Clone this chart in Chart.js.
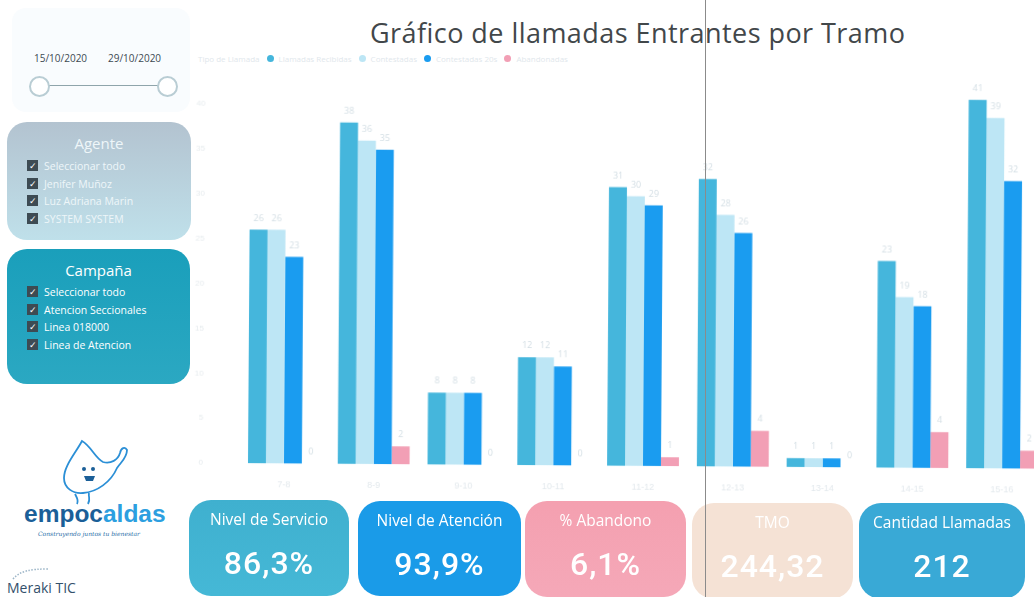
<!DOCTYPE html>
<html lang="es">
<head>
<meta charset="utf-8">
<title>Gráfico de llamadas Entrantes por Tramo</title>
<script src="https://cdn.jsdelivr.net/npm/chart.js@4"></script>
<style>
html, body { margin: 0; padding: 0; background: #fff; }
body { position: relative; width: 1034px; height: 597px; overflow: hidden; font-family: "Open Sans", sans-serif; }
.abs { position: absolute; }
#title { left: 370px; top: 14px; font-size: 27px; line-height: 38px; color: #42474a; white-space: nowrap; letter-spacing: .45px; }
#chartBox { left: 192.5px; top: 26px; width: 854px; height: 470px; transform-origin: 46px 437px; transform: rotate(.4deg); }
#legend { left: 198px; top: 53px; display: flex; align-items: center; font-size: 8px; color: #dfe7ec; white-space: nowrap; }
#legend i { display: inline-block; width: 7px; height: 7px; border-radius: 50%; margin: 0 5px 0 7px; }
#scanLine { left: 705px; top: 0; width: 1px; height: 597px; background: #8b8b8b; }
#datePanel { left: 12px; top: 8px; width: 178px; height: 104px; background: #f9fcfe; border-radius: 14px; }
.date { top: 51px; font-size: 10px; color: #3d4a52; }
.knob { top: 76px; width: 17px; height: 17px; border: 2px solid #b9cdd4; border-radius: 50%; background: #fff; }
#track { left: 48px; top: 85px; width: 112px; height: 1px; background: #8fa5ab; }
.panel { border-radius: 20px; color: #fff; }
.panel h3 { margin: 0; font-weight: 400; font-size: 15px; text-align: center; line-height: 20px; }
.panel ul { list-style: none; margin: 3px 0 0 20px; padding: 0; font-size: 10.5px; line-height: 17.5px; white-space: nowrap; }
.panel li::before { content: "\2713"; display: inline-block; width: 11px; height: 11px; line-height: 11px; text-align: center; font-size: 9px; background: #3d4b53; color: #fff; margin-right: 6px; vertical-align: 1px; }
#agente { left: 7px; top: 122px; width: 184px; height: 118px; padding-top: 11px; box-sizing: border-box; background: linear-gradient(#b3c3d0, #bfe0ea); color: #eef6f9; }
#agente ul { margin-top: 5px; }
#campana { left: 7px; top: 249px; width: 183px; height: 135px; padding-top: 11px; box-sizing: border-box; background: linear-gradient(#1a9fbb, #2ba8c2); }
#campana ul { margin-top: 4px; }
#logoText { left: 24px; top: 499px; font-family: "Liberation Sans", sans-serif; font-weight: 700; font-size: 24.5px; line-height: 30px; color: #1b5f98; }
#logoText span { color: #2c9fe0; }
#tagline { left: 38px; top: 530px; font-family: "DejaVu Serif", serif; font-style: italic; font-size: 6px; color: #2b6fa8; white-space: nowrap; }
#meraki { left: 7px; top: 579px; font-size: 14px; line-height: 18px; color: #33506b; }
.card { border-radius: 22px; color: #fff; text-align: center; overflow: hidden; }
.card div { font-size: 15.5px; line-height: 20px; margin-top: 9px; }
.card b { display: block; font-family: Roboto, sans-serif; font-weight: 500; font-size: 32px; line-height: 38px; margin-top: 15px; letter-spacing: 1px; }
</style>
</head>
<body>
<div class="abs" id="datePanel"></div>
<div class="abs date" style="left:34px">15/10/2020</div>
<div class="abs date" style="left:108px">29/10/2020</div>
<div class="abs" id="track"></div>
<div class="abs knob" style="left:29px"></div>
<div class="abs knob" style="left:157px"></div>

<div class="abs panel" id="agente">
  <h3>Agente</h3>
  <ul><li>Seleccionar todo</li><li>Jenifer Muñoz</li><li>Luz Adriana Marin</li><li>SYSTEM SYSTEM</li></ul>
</div>
<div class="abs panel" id="campana">
  <h3>Campaña</h3>
  <ul><li>Seleccionar todo</li><li>Atencion Seccionales</li><li>Linea 018000</li><li>Linea de Atencion</li></ul>
</div>

<svg class="abs" style="left:55px;top:436px" width="80" height="70" viewBox="0 0 80 70" fill="none" stroke="#2b8fd6" stroke-width="1.8">
  <path d="M27 5 C20 18 9 30 9 42 C9 52 18 58 28 57 C42 56 56 46 62 32 C66 26 72 22 72 14 C70 10 66 12 65 17 C63 24 56 28 48 26 C40 22 36 10 27 5 Z"/>
  <path d="M20 58 C22 62 24 64 22 68 M34 57 C33 62 36 62 33 68"/>
  <circle cx="29" cy="33" r="2" fill="#1b5f98" stroke="none"/><circle cx="38" cy="33" r="2" fill="#1b5f98" stroke="none"/>
  <path d="M29 40 h11 l-2 5 h-7 z" fill="#1b5f98" stroke="none"/>
</svg>
<svg class="abs" style="left:12px;top:566px" width="50" height="14" fill="none" stroke="#9db6c8" stroke-width="1.5" stroke-dasharray="1.5 1.5"><path d="M1 13 C8 5 18 3 36 3"/></svg>
<div class="abs" id="logoText">empoc<span>aldas</span></div>
<div class="abs" id="tagline">Construyendo juntos tu bienestar</div>
<div class="abs" id="meraki">Meraki TIC</div>

<div class="abs" id="title">Gráfico de llamadas Entrantes por Tramo</div>
<div class="abs" id="legend"></div>
<div class="abs" id="chartBox"><canvas id="tramoChart" width="854" height="470"></canvas></div>

<div class="abs card" style="left:189px;top:500px;width:160px;height:96px;background:linear-gradient(#3fb0cf,#45b8d6)"><div>Nivel de Servicio</div><b>86,3%</b></div>
<div class="abs card" style="left:358px;top:501px;width:163px;height:95px;background:#1a9be8"><div>Nivel de Atención</div><b>93,9%</b></div>
<div class="abs card" style="left:525px;top:501px;width:161px;height:96px;background:linear-gradient(#f4a0b0,#f5a8b8)"><div>% Abandono</div><b>6,1%</b></div>
<div class="abs card" style="left:692px;top:503px;width:161px;height:96px;background:#f5e2d5"><div>TMO</div><b>244,32</b></div>
<div class="abs card" style="left:859px;top:503px;width:166px;height:96px;background:#39a9d6"><div>Cantidad Llamadas</div><b>212</b></div>
<div class="abs" id="scanLine"></div>

<script>
// --- Datos ---
const tramos = ['7-8', '8-9', '9-10', '10-11', '11-12', '12-13', '13-14', '14-15', '15-16'];
const recibidas = [26, 38, 8, 12, 31, 32, 1, 23, 41];
const contestadas = [26, 36, 8, 12, 30, 28, 1, 19, 39];
const contestadas20 = [23, 35, 8, 11, 29, 26, 1, 18, 32];
const abandonadas = [0, 2, 0, 0, 1, 4, 0, 4, 2];
const seriesNames = ['Llamadas Recibidas', 'Contestadas', 'Contestadas 20s', 'Abandonadas'];
const seriesColors = ['#45b6dc', '#bde6f5', '#1a9cf0', '#f29fb5'];
const yTicks = [0, 5, 10, 15, 20, 25, 30, 35, 40];

// leyenda en html, con el titulo "Tipo de Llamada" delante
const legend = document.getElementById('legend');
legend.innerHTML = 'Tipo de Llamada' + seriesNames.map(function (name, i) {
    return '<i style="background:' + seriesColors[i] + '"></i>' + name;
}).join('');

// numeros encima de cada barra
const barLabels = {
    id: 'barLabels',
    afterDatasetsDraw(chart) {
        const ctx = chart.ctx;
        ctx.save();
        ctx.font = '9px "Open Sans"';
        ctx.fillStyle = '#d3dee4';
        ctx.textAlign = 'center';
        ctx.textBaseline = 'bottom';
        chart.data.datasets.forEach(function (ds, i) {
            chart.getDatasetMeta(i).data.forEach(function (bar, j) {
                ctx.fillText(ds.data[j], bar.x, bar.y - 7);
            });
        });
        ctx.restore();
    }
};

new Chart(document.getElementById('tramoChart'), {
    type: 'bar',
    data: {
        labels: tramos,
        datasets: [recibidas, contestadas, contestadas20, abandonadas].map(function (values, i) {
            return { label: seriesNames[i], data: values, backgroundColor: seriesColors[i] };
        })
    },
    options: {
        responsive: false,
        animation: false,
        layout: { padding: { top: 8 } },
        datasets: { bar: { barPercentage: 1, categoryPercentage: 0.8 } },
        plugins: { legend: { display: false }, tooltip: { enabled: false } },
        scales: {
            x: {
                grid: { display: false },
                border: { display: false },
                ticks: { color: '#e3e9ed', font: { size: 9 }, padding: 8, maxRotation: 0 },
                afterFit(axis) { axis.height = 27; }
            },
            y: {
                min: 0,
                max: 45,
                grid: { display: false },
                border: { display: false },
                afterBuildTicks(axis) { axis.ticks = yTicks.map(function (v) { return { value: v }; }); },
                ticks: { color: '#e6ebee', font: { size: 8 }, padding: 28 },
                afterFit(axis) { axis.width = 46; }
            }
        }
    },
    plugins: [barLabels]
});
</script>
</body>
</html>
